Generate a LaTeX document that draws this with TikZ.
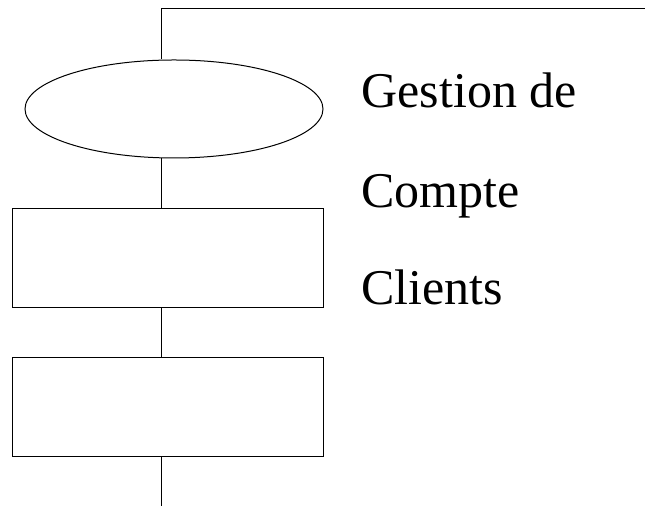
\documentclass[tikz,border=0pt]{standalone}
\usepackage{fontspec}
\setmainfont{Liberation Serif}
\usetikzlibrary{shapes.geometric}

\begin{document}
\begin{tikzpicture}[x=0.5pt, y=-0.5pt, line width=0.5pt,
  oval/.style={draw, ellipse, inner sep=0pt, minimum width=149pt, minimum height=49pt},
  box/.style={draw, rectangle, inner sep=0pt, minimum width=155.75pt, minimum height=49.75pt},
  title/.style={anchor=base west, inner sep=0pt, font=\fontsize{25}{30}\selectfont}]
  \useasboundingbox (0, 0) rectangle (645, 506);

  % Flow shapes
  \node[oval] (gestion) at (174, 109) {};
  \node[box] (compte) at (168, 258) {};
  \node[box] (clients) at (168, 407) {};

  % Free ends of the trunk
  \coordinate (corner) at (162, 9);
  \coordinate (topend) at (645, 9);
  \coordinate (bottomend) at (162, 506);

  % Trunk
  \draw (topend) -- (corner) -- (corner |- gestion.north);
  \draw (corner |- gestion.south) -- (corner |- compte.north);
  \draw (corner |- compte.south) -- (corner |- clients.north);
  \draw (corner |- clients.south) -- (bottomend);

  % Title
  \node[title] (line1) at (361, 108) {Gestion de};
  \node[title] (line2) at (361, 208) {Compte};
  \node[title] (line3) at (361, 305) {Clients};
\end{tikzpicture}
\end{document}
